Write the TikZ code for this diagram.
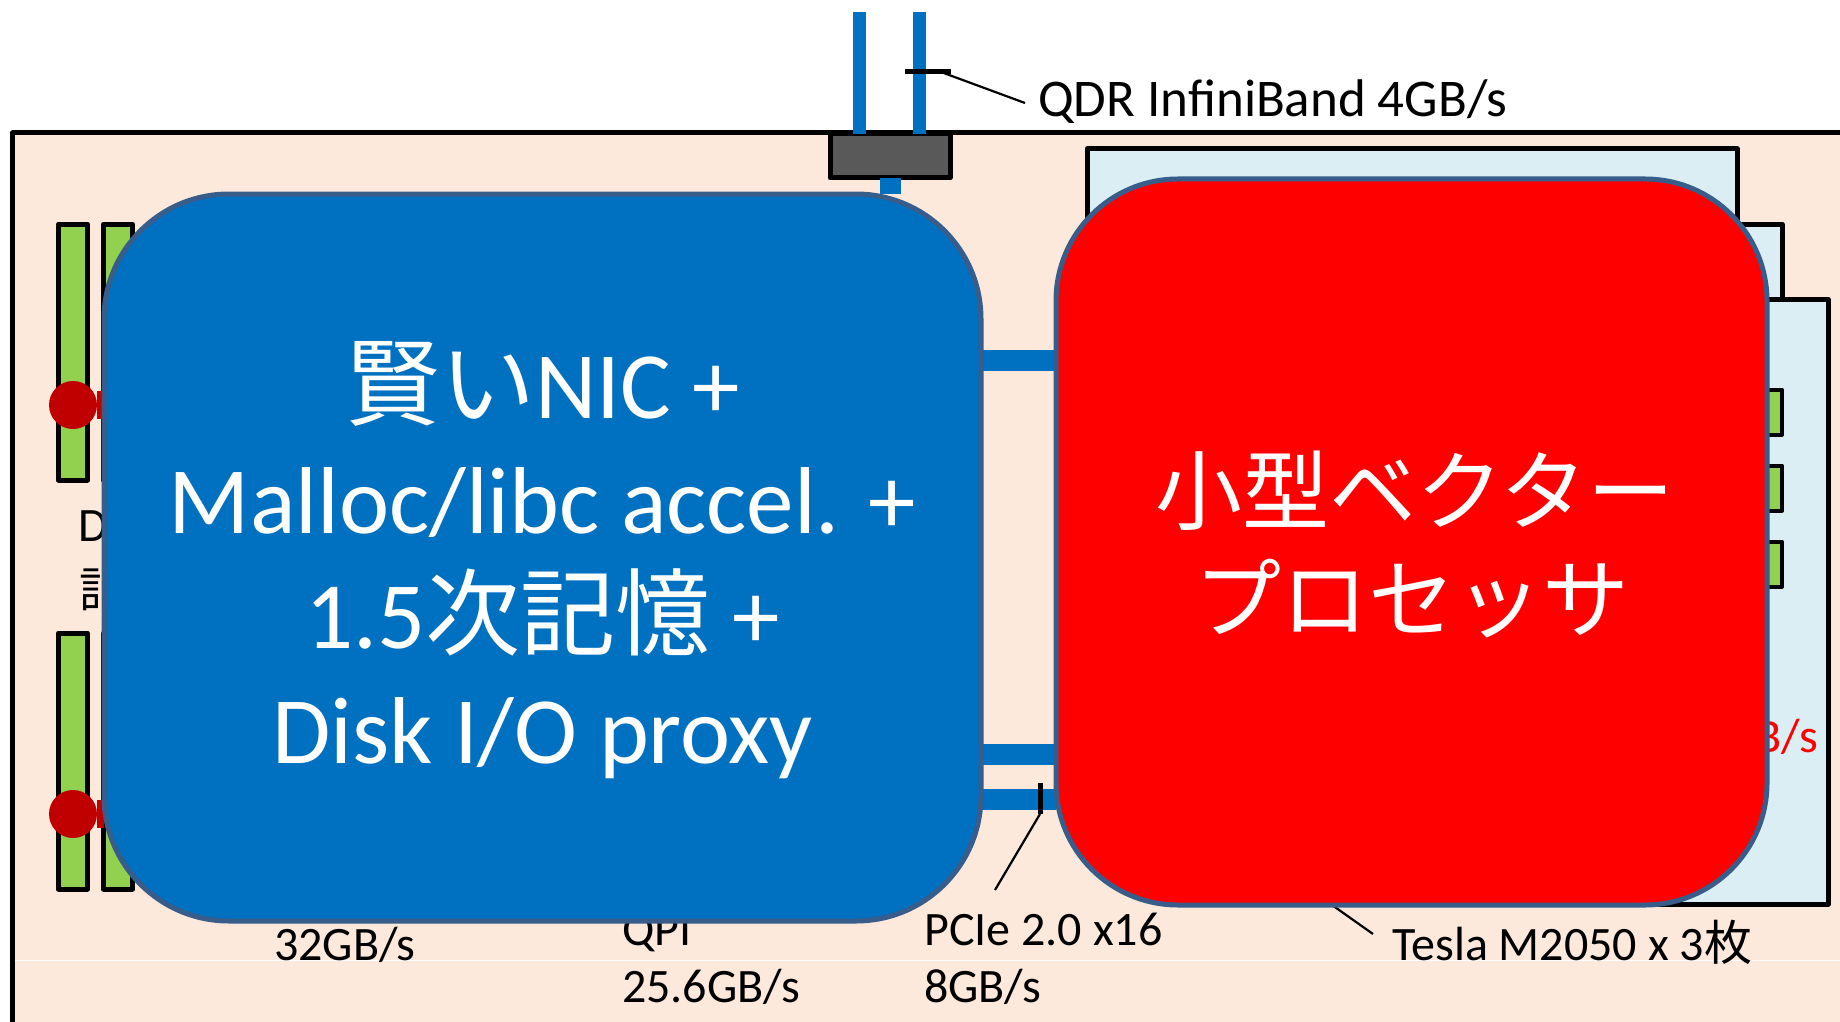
\documentclass[tikz,border=0pt]{standalone}
\usepackage{fontspec}
\usepackage{xcolor}
\setmainfont{Carlito}
\newfontfamily\cjk{Noto Sans CJK JP}
\usetikzlibrary{positioning}
\pgfdeclarelayer{back}
\pgfsetlayers{back,main}
\definecolor{boardfill}{HTML}{FDE9DC}
\definecolor{cardfill}{HTML}{DAEEF3}
\definecolor{stickfill}{HTML}{92D050}
\definecolor{linkblue}{HTML}{0070C0}
\definecolor{edgeblue}{HTML}{385D8A}
\definecolor{socketred}{HTML}{C00000}
\tikzset{
    part/.style={rectangle, draw=black, line width=5pt, inner sep=0pt, outer sep=0pt, line join=round},
    stickbox/.style={part, fill=stickfill, minimum width=29pt, minimum height=256pt},
    chipbox/.style={part, fill=stickfill, line width=4pt, minimum width=32pt, minimum height=45pt},
    cardbox/.style={part, fill=cardfill, minimum width=650pt, minimum height=605pt},
    bigbox/.style={rectangle, draw=edgeblue, line width=5pt, inner sep=0pt, outer sep=0pt, text=white, align=center},
    socket/.style={circle, fill=socketred, minimum size=48pt, inner sep=0pt, outer sep=0pt},
    txt/.style={anchor=base west, inner sep=0pt, font=\fontsize{48}{58}\selectfont},
    link/.style={draw=linkblue, line width=21pt},
    iblink/.style={draw=linkblue, line width=13pt},
    memlink/.style={draw=socketred, line width=28pt},
    tick/.style={draw=black, line width=5pt},
    leader/.style={draw=black, line width=2.2pt},
}
\begin{document}
\begin{tikzpicture}[x=1pt, y=-1pt]
    \clip (0,0) rectangle (1840,1022);

    \begin{pgfonlayer}{back}
    \fill[white] (0,0) rectangle (1840,1022);
    \node (board) [part, fill=boardfill, anchor=north west, minimum width=1900pt, minimum height=960pt] at (12.5,133) {};
    \coordinate (seamA) at (15,960);
    \coordinate (seamB) at (1840,960);
    \draw[white, line width=1pt] (seamA) -- (seamB);

    % memory sticks
    \node (stickA) [stickbox] at (73,352) {};
    \node (stickB) [stickbox, right=16pt of stickA] {};
    \node (stickC) [stickbox] at (73,761) {};
    \node (stickD) [stickbox, right=16pt of stickC] {};
    \node (socketA) [socket] at (73,405) {};
    \node (socketB) [socket] at (73,814) {};

    % cards
    \node (cardA) [cardbox, anchor=north west] at (1087,149) {};
    \node (cardB) [cardbox, anchor=north west] at (1132,224) {};
    \node (cardC) [cardbox, anchor=north west] at (1178,299) {};
    \node (chipA) [chipbox] at (1766,412) {};
    \node (chipB) [chipbox] at (1766,488) {};
    \node (chipC) [chipbox] at (1766,564) {};

    \node (hca) [part, fill=black!65, minimum width=120pt, minimum height=44pt] at (890,156) {};

    % labels
    \node (ddrname) [txt] at (78,541) {D};
    \node (ddrmem) [txt] at (79,607) {\cjk 記};
    \node (qdrtext) [txt, font=\fontsize{53}{60}\selectfont] at (1038,117) {QDR InfiniBand 4GB/s};
    \node (ddrrate) [txt] at (274,960) {32GB/s};
    \node (qpiname) [txt] at (622,945) {QPI};
    \node (qpirate) [txt] at (622,1002) {25.6GB/s};
    \node (pciename) [txt] at (924,945) {PCIe 2.0 x16};
    \node (pcierate) [txt] at (924,1002) {8GB/s};
    \node (teslatext) [txt] at (1392,960) {Tesla M2050 x 3{\cjk 枚}};
    \node (gddrrate) [txt, anchor=base east, text=red] at (1818,752) {GB/s};
    \end{pgfonlayer}

    \node (nic) [bigbox, fill=linkblue, rounded corners=125pt, minimum width=877pt, minimum height=727pt,
        font=\fontsize{95}{115}\selectfont] at (542.5,557.5)
        {\rule{0pt}{82pt}{\cjk 賢い}NIC +\\Malloc/libc accel. +\\1.5{\cjk 次記憶} +\\Disk I/O proxy};
    \node (gpu) [bigbox, fill=red, rounded corners=122pt, minimum width=711pt, minimum height=726pt,
        font=\fontsize{87}{108}\selectfont\cjk] at (1411.5,542)
        {\rule{0pt}{77pt}\hspace*{7pt}小型ベクター\\プロセッサ};

    \begin{pgfonlayer}{back}
    \coordinate (ibA) at (859.5,12);
    \coordinate (ibB) at (919.5,12);
    \coordinate (ibtickA) at (905,72);
    \coordinate (ibtickB) at (951,72);
    \coordinate (ibend) at (1025,103);
    \coordinate (pcietickA) at (1040,783);
    \coordinate (pcietickB) at (1040,814);
    \coordinate (pcieend) at (995,890);
    \coordinate (teslastart) at (1332,905);
    \coordinate (teslaend) at (1373,934);

    \draw[link] (hca.south) -- (hca.south |- nic.north);
    \draw[link] (nic.east |- 0,360) -- (gpu.west |- 0,360);
    \draw[link] (nic.east |- 0,754) -- (gpu.west |- 0,754);
    \draw[link] (nic.east |- 0,799) -- (gpu.west |- 0,799);
    \draw[iblink] (ibA) -- (ibA |- hca.north);
    \draw[iblink] (ibB) -- (ibB |- hca.north);
    \draw[memlink] (socketA) -- (nic.west |- socketA);
    \draw[memlink] (socketB) -- (nic.west |- socketB);
    \draw[tick] (ibtickA) -- (ibtickB);
    \draw[tick] (pcietickA) -- (pcietickB);
    \draw[leader] (ibtickB) ++(-10,0) -- (ibend);
    \draw[leader] (pcietickB) -- (pcieend);
    \draw[leader] (teslastart) -- (teslaend);
    \end{pgfonlayer}
\end{tikzpicture}
\end{document}
